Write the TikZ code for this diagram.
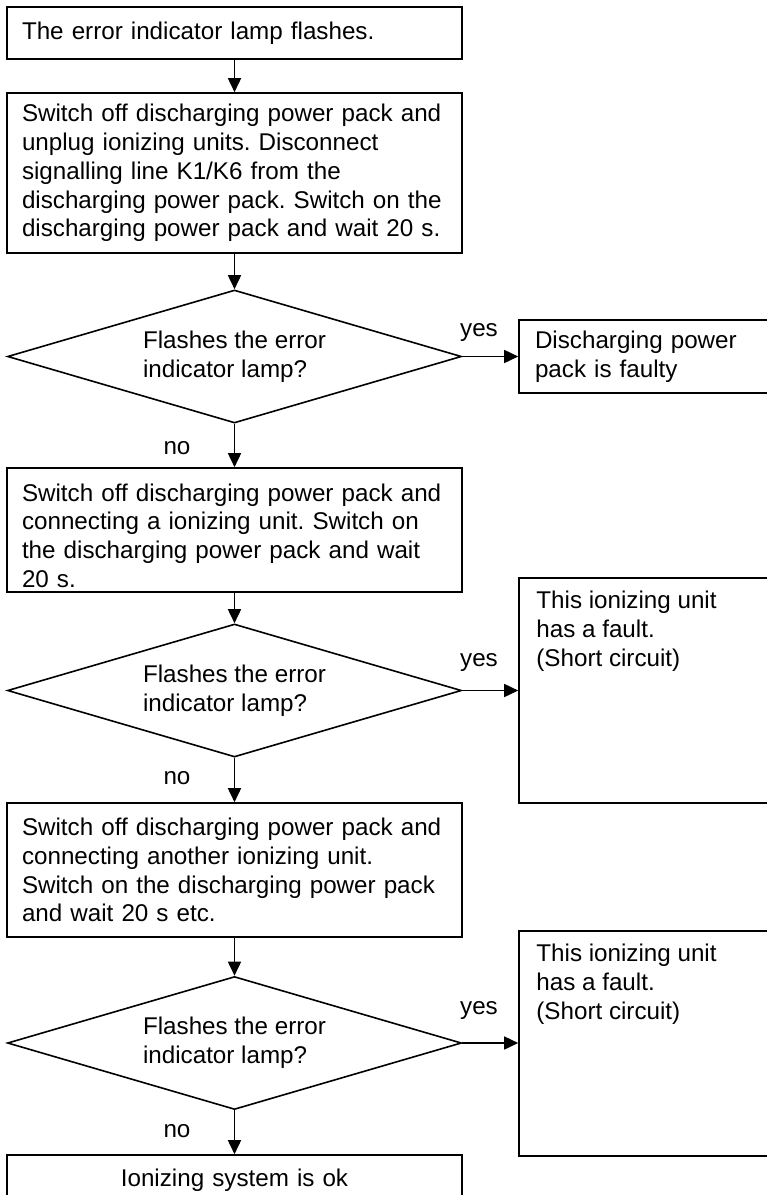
\documentclass[tikz,border=0pt]{standalone}
\usepackage{fontspec}
\setmainfont{Liberation Sans}
\frenchspacing
\usetikzlibrary{arrows.meta,shapes.geometric}
\newcommand\flowfont{\fontsize{24.2pt}{28.8pt}\selectfont}
\tikzset{
  outline/.style={draw=black, line width=1.6pt, inner sep=0pt},
  stepbox/.style={outline, rectangle, text width=425pt, inner xsep=15pt,
    align=left, font=\flowfont},
  sidebox/.style={outline, rectangle, minimum width=300pt, text width=268pt,
    inner xsep=16pt, align=left, font=\flowfont},
  query/.style={outline, diamond, aspect=3.4, minimum width=454pt,
    minimum height=133pt, align=left, font=\flowfont},
  txt/.style={inner sep=0pt, align=left, font=\flowfont},
  lbl/.style={inner sep=0pt, font=\flowfont},
  arr/.style={line width=1.6pt, -{Triangle[length=14pt,width=13pt]}}
}
\begin{document}
\begin{tikzpicture}[x=1pt, y=-1pt]
\useasboundingbox (0,0) rectangle (767,1195);
\fill[white] (0,0) rectangle (767,1195);
\clip (0,0) rectangle (767,1195);

% main column
\node[stepbox, minimum height=52pt] (b1) at (234.5,33) {The error indicator lamp flashes.};
\node[stepbox, minimum height=160pt] (b2) at (234.5,173)
  {Switch off discharging power pack and\\
   unplug ionizing units. Disconnect\\
   signalling line K1/K6 from the\\
   discharging power pack. Switch on the\\
   discharging power pack and wait 20 s.};
\node[query] (d1) at (234.5,356.5) {Flashes the error\\indicator lamp?};
\node[stepbox, minimum height=124pt] (b3) at (234.5,530)
  {\rule{0pt}{29pt}Switch off discharging power pack and\\
   connecting a ionizing unit. Switch on\\
   the discharging power pack and wait\\
   20 s.};
\node[query] (d2) at (234.5,690.5) {Flashes the error\\indicator lamp?};
\node[stepbox, minimum height=134pt] (b4) at (234.5,870)
  {Switch off discharging power pack and\\
   connecting another ionizing unit.\\
   Switch on the discharging power pack\\
   and wait 20 s etc.};
\node[query] (d3) at (234.5,1043) {Flashes the error\\indicator lamp?};
\node[stepbox, minimum height=50pt, align=center] (b5) at (234.5,1180) {Ionizing system is ok};

% side results
\node[sidebox, minimum height=73pt] (r1) at (669,356.5) {Discharging power\\pack is faulty};
\node[sidebox, minimum height=225pt] (r2) at (669,690.5) {};
\node[txt, anchor=north west] (r2t) at ([xshift=18pt,yshift=-14pt]r2.north west)
  {This ionizing unit\\has a fault.\\(Short circuit)};
\node[sidebox, minimum height=225pt] (r3) at (669,1043.5) {};
\node[txt, anchor=north west] (r3t) at ([xshift=18pt,yshift=-14pt]r3.north west)
  {This ionizing unit\\has a fault.\\(Short circuit)};

% connectors
\draw[arr] (b1.south) -- (b2.north);
\draw[arr] (b2.south) -- (d1.north);
\draw[arr] (d1.south) -- (b3.north);
\draw[arr] (b3.south) -- (d2.north);
\draw[arr] (d2.south) -- (b4.north);
\draw[arr] (b4.south) -- (d3.north);
\draw[arr] (d3.south) -- (b5.north);
\draw[arr] (d1.east) -- (r1.west);
\draw[arr] (d2.east) -- (d2.east -| r2.west);
\draw[arr] (d3.east) -- (d3.east -| r3.west);

% branch labels
\node[lbl] (y1) at (479,332) {yes};
\node[lbl] (n1) at (177,448) {no};
\node[lbl] (y2) at (479,662) {yes};
\node[lbl] (n2) at (177,778) {no};
\node[lbl] (y3) at (479,1010) {yes};
\node[lbl] (n3) at (177,1131) {no};
\end{tikzpicture}
\end{document}
